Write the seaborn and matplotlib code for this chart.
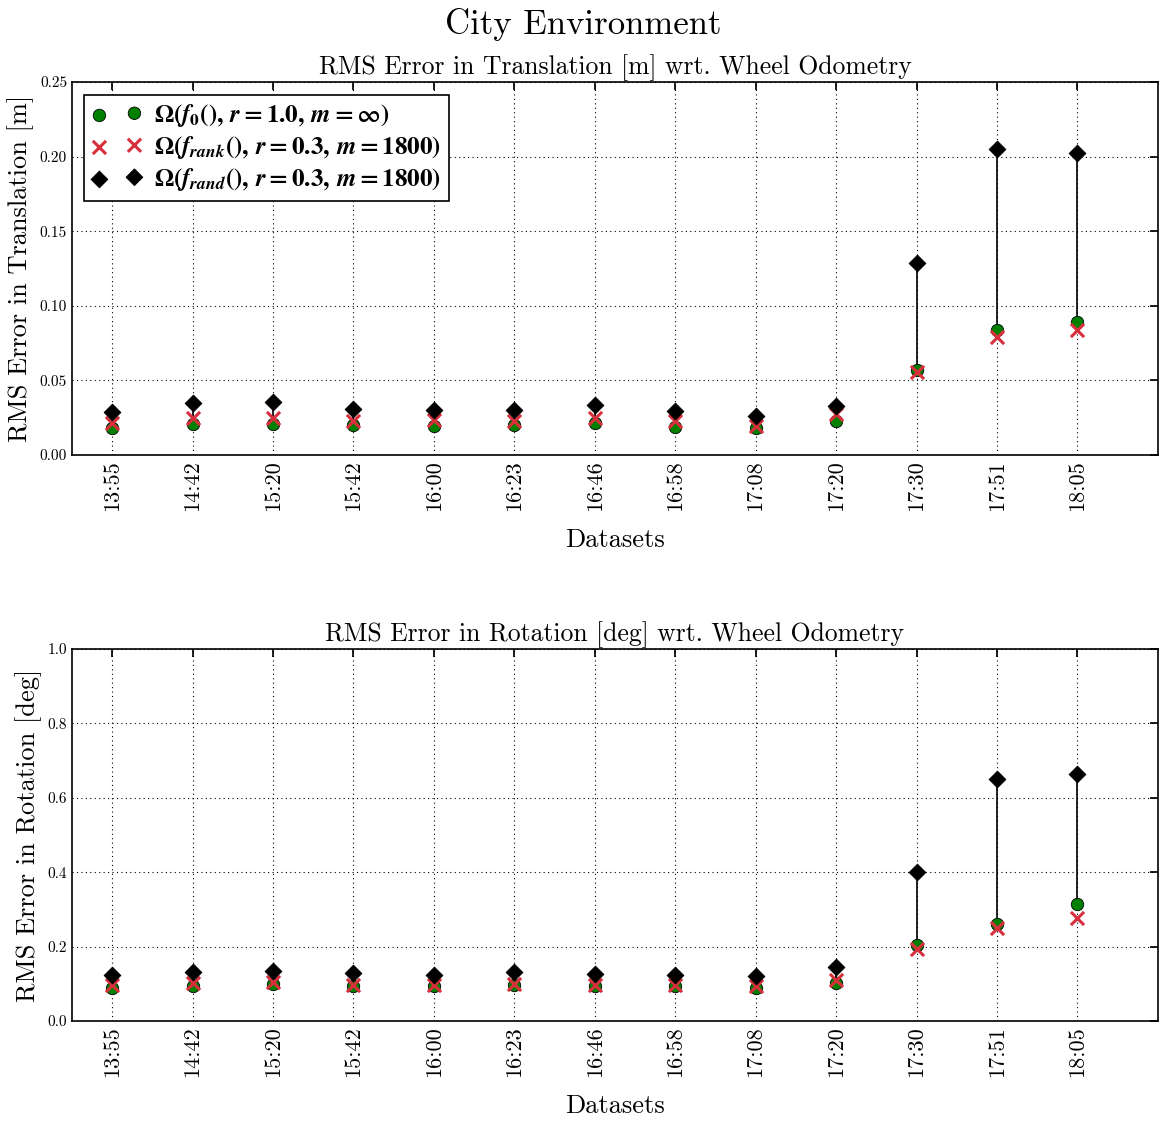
import numpy as np
import pandas as pd
import seaborn as sns
import matplotlib.pyplot as plt

# dataset labels (time of recording)
datasets = ["13:55", "14:42", "15:20", "15:42", "16:00", "16:23", "16:46",
            "16:58", "17:08", "17:20", "17:30", "17:51", "18:05"]

# RMS error in translation [m]
trans_f0 = [0.0184, 0.0207, 0.0207, 0.0203, 0.0196, 0.0203, 0.0214,
            0.0190, 0.0180, 0.0230, 0.0568, 0.0838, 0.0890]
trans_rank = [0.0214, 0.0248, 0.0250, 0.0225, 0.0234, 0.0225, 0.0248,
              0.0225, 0.0196, 0.0275, 0.0556, 0.0793, 0.0838]
trans_rand = [0.0286, 0.0349, 0.0353, 0.0309, 0.0304, 0.0304, 0.0338,
              0.0293, 0.0259, 0.0331, 0.1290, 0.2050, 0.2027]

# RMS error in rotation [deg]
rot_f0 = [0.089, 0.095, 0.100, 0.095, 0.095, 0.097, 0.094,
          0.094, 0.090, 0.102, 0.203, 0.262, 0.314]
rot_rank = [0.097, 0.102, 0.104, 0.098, 0.097, 0.100, 0.097,
            0.097, 0.093, 0.111, 0.194, 0.251, 0.277]
rot_rand = [0.125, 0.132, 0.134, 0.130, 0.125, 0.132, 0.127,
            0.125, 0.121, 0.145, 0.400, 0.650, 0.664]

labels = [r"$\Omega(f_0(),\, r=1.0,\, m=\infty)$",
          r"$\Omega(f_{rank}(),\, r=0.3,\, m=1800)$",
          r"$\Omega(f_{rand}(),\, r=0.3,\, m=1800)$"]

sns.set_theme(style="white", rc={
    "xtick.direction": "in", "ytick.direction": "in",
    "xtick.top": True, "ytick.right": True,
    "xtick.major.size": 6, "ytick.major.size": 6,
    "axes.edgecolor": "black", "axes.linewidth": 1.2,
    "text.color": "black", "axes.labelcolor": "black",
    "xtick.color": "black", "ytick.color": "black",
    "grid.color": "black", "grid.linestyle": (0, (1, 3)), "grid.linewidth": 0.8,
})
plt.rcParams["font.family"] = ["cmr10", "DejaVu Serif"]
plt.rcParams["axes.unicode_minus"] = False
# bold math for the legend entries
plt.rcParams["mathtext.fontset"] = "custom"
plt.rcParams["mathtext.rm"] = "STIXGeneral:bold"
plt.rcParams["mathtext.bf"] = "STIXGeneral:bold"
plt.rcParams["mathtext.it"] = "STIXGeneral:italic:bold"
plt.rcParams["mathtext.fallback"] = "stix"

fig = plt.figure(figsize=(11.66, 11.22), dpi=100)
ax1 = fig.add_axes([0.0617, 0.5945, 0.9313, 0.3324])
ax2 = fig.add_axes([0.0617, 0.0900, 0.9313, 0.3316])


def draw(ax, f0, rank, rand, title, ylabel, yticks, fmt, legend):
    df = pd.DataFrame({"dataset": datasets, "f0": f0, "rank": rank, "rand": rand})
    ax.vlines(np.arange(len(datasets)), df["f0"], df["rand"], color="black",
              linewidth=1.2, zorder=2)
    sns.scatterplot(data=df, x="dataset", y="f0", ax=ax, color="green",
                    edgecolor="black", linewidth=0.6, s=80, marker="o",
                    label=labels[0], zorder=3)
    sns.scatterplot(data=df, x="dataset", y="rank", ax=ax, color="#d7303c",
                    s=90, marker="x", linewidth=2.2, label=labels[1], zorder=4)
    sns.scatterplot(data=df, x="dataset", y="rand", ax=ax, color="black",
                    edgecolor="black", s=72, marker="D", label=labels[2], zorder=5)
    ax.set_xlim(-0.5, 13)
    ax.set_ylim(yticks[0], yticks[-1])
    ax.set_yticks(yticks)
    ax.set_yticklabels([fmt.format(v) for v in yticks], fontsize=11)
    ax.set_xticks(np.arange(len(datasets)))
    ax.set_xticklabels(datasets, rotation=90, fontsize=16)
    ax.grid(True)
    ax.set_title(title, fontsize=18.5)
    ax.set_xlabel("Datasets", fontsize=19, labelpad=13)
    ax.set_ylabel(ylabel, fontsize=19)
    if legend:
        leg = ax.legend(loc="upper left", scatterpoints=2, fontsize=18,
                        frameon=True, fancybox=False, edgecolor="black",
                        framealpha=1, borderpad=0.3, handletextpad=0.5,
                        labelspacing=0.2, handlelength=2.0)
        leg.get_frame().set_linewidth(1.2)
    else:
        ax.get_legend().remove()


draw(ax1, trans_f0, trans_rank, trans_rand,
     "RMS Error in Translation [m] wrt. Wheel Odometry",
     "RMS Error in Translation [m]",
     [0.0, 0.05, 0.10, 0.15, 0.20, 0.25], "{:.2f}", True)
draw(ax2, rot_f0, rot_rank, rot_rand,
     "RMS Error in Rotation [deg] wrt. Wheel Odometry",
     "RMS Error in Rotation [deg]",
     [0.0, 0.2, 0.4, 0.6, 0.8, 1.0], "{:.1f}", False)

fig.suptitle("City Environment", fontsize=25, y=0.993)
fig.savefig("out.png", dpi=100)
